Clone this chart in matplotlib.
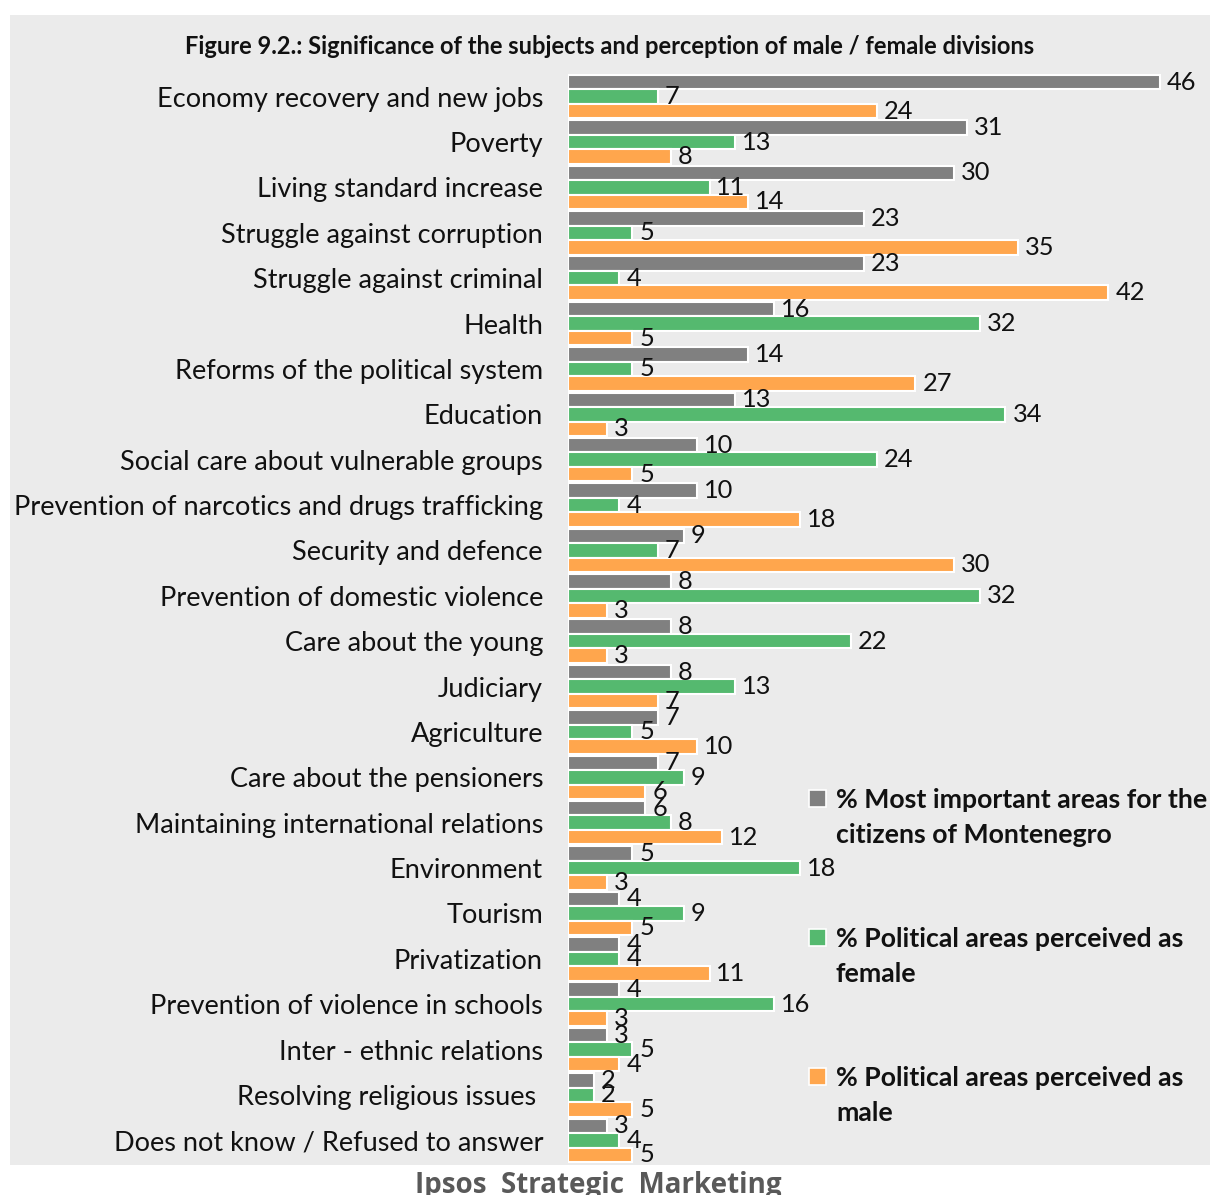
import matplotlib
matplotlib.use("Agg")
import matplotlib.pyplot as plt
from matplotlib.patches import Rectangle
import numpy as np

categories = [
    "Economy recovery and new jobs",
    "Poverty",
    "Living standard increase",
    "Struggle against corruption",
    "Struggle against criminal",
    "Health",
    "Reforms of the political system",
    "Education",
    "Social care about vulnerable groups",
    "Prevention of narcotics and drugs trafficking",
    "Security and defence",
    "Prevention of domestic violence",
    "Care about the young",
    "Judiciary",
    "Agriculture",
    "Care about the pensioners",
    "Maintaining international relations",
    "Environment",
    "Tourism",
    "Privatization",
    "Prevention of violence in schools",
    "Inter - ethnic relations",
    "Resolving religious issues ",
    "Does not know / Refused to answer",
]
important = [46, 31, 30, 23, 23, 16, 14, 13, 10, 10, 9, 8, 8, 8, 7, 7, 6, 5, 4, 4, 4, 3, 2, 3]
female = [7, 13, 11, 5, 4, 32, 5, 34, 24, 4, 7, 32, 22, 13, 5, 9, 8, 18, 9, 4, 16, 5, 2, 4]
male = [24, 8, 14, 35, 42, 5, 27, 3, 5, 18, 30, 3, 3, 7, 10, 6, 12, 3, 5, 11, 3, 4, 5, 5]

series_names = [
    "% Most important areas for the\ncitizens of Montenegro",
    "% Political areas perceived as\nfemale",
    "% Political areas perceived as\nmale",
]
colors = ["#808080", "#55B96F", "#FFA64D"]
bg = "#EBEBEB"

W, H = 1210, 1195
fig = plt.figure(figsize=(W / 100, H / 100), dpi=100)
fig.patch.set_facecolor("white")

# light panel behind the chart
fig.patches.append(Rectangle((10 / W, 1 - 1165 / H), 1200 / W, 1150 / H,
                             transform=fig.transFigure, facecolor=bg,
                             edgecolor="none", zorder=-5))

n = len(categories)
top_px, bot_px = 74, 1163
ax = fig.add_axes([568 / W, 1 - bot_px / H, (W - 568) / W, (bot_px - top_px) / H])
ax.set_facecolor("none")
ax.set_zorder(1)

y = np.arange(n)
h = 0.32
for k, (vals, col) in enumerate(zip([important, female, male], colors)):
    pos = y + (k - 1) * h
    ax.barh(pos, vals, height=h, color=col, edgecolor="white", linewidth=1.5)
    for p, v in zip(pos, vals):
        ax.annotate(str(v), (v, p), xytext=(5, 0), textcoords="offset points",
                    va="center", ha="left", fontsize=18.3, family="Lato",
                    color="#111111")

ax.set_ylim(n - 0.5, -0.5)
ax.set_xlim(0, 49.9)
ax.set_yticks(y)
ax.set_yticklabels(categories, fontsize=19.5, family="Lato", color="#111111",
                   va="center_baseline")
ax.tick_params(axis="y", length=0, pad=18)
ax.set_xticks([])
for s in ax.spines.values():
    s.set_visible(False)

fig.text(610 / W, 1 - 46 / H,
         "Figure 9.2.: Significance of the subjects and perception of male / female divisions",
         ha="center", va="center", fontsize=17, fontweight="bold", family="Lato",
         color="#111111")

# legend
leg_y = [799, 938, 1077]
for ly, col, name in zip(leg_y, colors, series_names):
    fig.patches.append(Rectangle((809 / W, 1 - (ly + 8) / H), 17 / W, 17 / H,
                                 transform=fig.transFigure, facecolor=col,
                                 edgecolor="white", linewidth=1.2, zorder=3))
    fig.text(836 / W, 1 - (ly - 11) / H, name, ha="left", va="top",
             fontsize=19.2, fontweight="bold", family="Lato", color="#111111",
             linespacing=1.53, zorder=3)

fig.text(598 / W, 1 - 1193 / H, "Ipsos  Strategic  Marketing", ha="center",
         va="baseline", fontsize=20, fontweight="bold", family="Open Sans",
         color="#595959")

fig.savefig("out.png", dpi=100, facecolor=fig.get_facecolor())
